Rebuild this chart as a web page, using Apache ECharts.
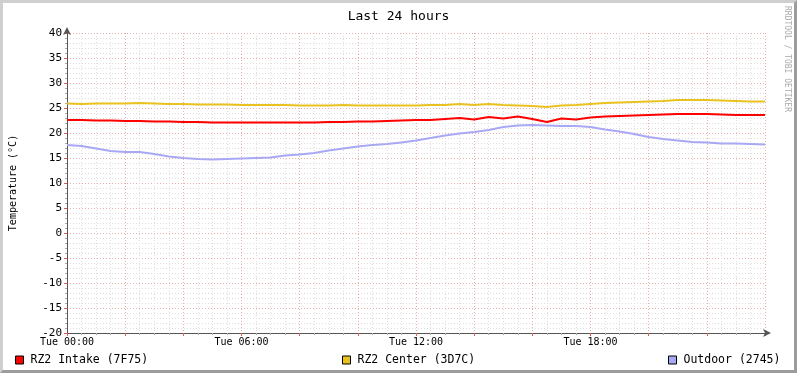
<!DOCTYPE html>
<html lang="en">
<head>
    <meta charset="UTF-8">
    <title>Last 24 hours</title>
    <script src="https://cdn.jsdelivr.net/npm/echarts@6/dist/echarts.min.js"></script>
    <style>
        html, body { margin: 0; padding: 0; background: #fff; }
        #wrap { position: relative; width: 797px; height: 373px; }
        #main { position: absolute; left: 0; top: 0; width: 797px; height: 373px; }
        #frame {
            position: absolute; left: 0; top: 0; width: 797px; height: 373px;
            box-sizing: border-box; pointer-events: none;
            border-top: 3px solid #cfcfcf; border-left: 3px solid #cfcfcf;
            border-right: 3px solid #9c9c9c; border-bottom: 3px solid #9c9c9c;
        }
    </style>
</head>
<body>
<div id="wrap">
    <div id="main"></div>
    <div id="frame"></div>
</div>
<script>
    // hours since Tue 00:00, one sample every 30 min
    var hours = [0, 0.5, 1, 1.5, 2, 2.5, 3, 3.5, 4, 4.5, 5, 5.5, 6, 6.5, 7, 7.5, 8, 8.5,
        9, 9.5, 10, 10.5, 11, 11.5, 12, 12.5, 13, 13.5, 14, 14.5, 15, 15.5, 16, 16.5,
        17, 17.5, 18, 18.5, 19, 19.5, 20, 20.5, 21, 21.5, 22, 22.5, 23, 23.5, 24];

    var intake = [22.6, 22.6, 22.5, 22.5, 22.4, 22.4, 22.3, 22.3, 22.2, 22.2, 22.1, 22.1,
        22.1, 22.1, 22.1, 22.1, 22.1, 22.1, 22.2, 22.2, 22.3, 22.3, 22.4, 22.5,
        22.6, 22.6, 22.8, 23.0, 22.7, 23.2, 22.9, 23.3, 22.8, 22.2, 22.9, 22.7,
        23.1, 23.3, 23.4, 23.5, 23.6, 23.7, 23.8, 23.8, 23.8, 23.7, 23.6, 23.6, 23.6];

    var center = [25.9, 25.8, 25.9, 25.9, 25.9, 26.0, 25.9, 25.8, 25.8, 25.7, 25.7, 25.7,
        25.6, 25.6, 25.6, 25.6, 25.5, 25.5, 25.5, 25.6, 25.5, 25.5, 25.5, 25.5,
        25.5, 25.6, 25.6, 25.8, 25.6, 25.8, 25.6, 25.5, 25.4, 25.2, 25.5, 25.6,
        25.8, 26.0, 26.1, 26.2, 26.3, 26.4, 26.6, 26.6, 26.6, 26.5, 26.4, 26.3, 26.3];

    var outdoor = [17.6, 17.4, 16.9, 16.4, 16.2, 16.2, 15.8, 15.3, 15.0, 14.8, 14.7, 14.8,
        14.9, 15.0, 15.1, 15.5, 15.7, 16.0, 16.5, 16.9, 17.3, 17.6, 17.8, 18.1,
        18.5, 19.0, 19.5, 19.9, 20.2, 20.6, 21.2, 21.5, 21.6, 21.5, 21.4, 21.4,
        21.2, 20.7, 20.3, 19.8, 19.2, 18.8, 18.5, 18.2, 18.1, 17.9, 17.9, 17.8, 17.7];

    var seriesNames = ['RZ2 Intake (7F75)', 'RZ2 Center (3D7C)', 'Outdoor (2745)'];
    var seriesColors = ['#ff0000', '#eac21f', '#a8a8f4'];
    var xLabels = {0: 'Tue 00:00', 6: 'Tue 06:00', 12: 'Tue 12:00', 18: 'Tue 18:00'};

    function pairs(values) {
        var out = [];
        for (var i in values) {
            out.push([hours[i], values[i]]);
        }
        return out;
    }

    var mono = 'DejaVu Sans Mono';
    var majorGrid = {show: true, lineStyle: {color: '#e8adad', type: [1, 2], width: 1}};
    var minorGrid = {show: true, lineStyle: {color: '#dedede', type: [1, 2], width: 1}};

    function legendFor(i, left) {
        return {
            data: [seriesNames[i]],
            left: left,
            top: 354,
            icon: 'rect',
            itemWidth: 8,
            itemHeight: 8,
            itemGap: 0,
            padding: 0,
            selectedMode: false,
            itemStyle: {borderColor: '#000', borderWidth: 1},
            textStyle: {fontFamily: mono, fontSize: 11.5, color: '#000', padding: [0, 0, 0, 2]}
        };
    }

    var option = {
        animation: false,
        backgroundColor: '#fff',
        title: {
            text: 'Last 24 hours',
            left: 'center',
            top: 5,
            textStyle: {fontFamily: mono, fontSize: 13, fontWeight: 'normal', color: '#000'}
        },
        legend: [legendFor(0, 15), legendFor(1, 342), legendFor(2, 668)],
        grid: {left: 67, right: 32, top: 33, bottom: 40, containLabel: false, outerBoundsMode: 'none'},
        xAxis: {
            type: 'value',
            min: 0,
            max: 24,
            interval: 2,
            axisLine: {
                onZero: false,
                lineStyle: {color: '#555', width: 1},
                symbol: ['none', 'arrow'],
                symbolSize: [6, 8],
                symbolOffset: [0, 6]
            },
            axisTick: {show: true, length: 3, lineStyle: {color: '#e05a5a'}},
            minorTick: {show: true, splitNumber: 4, length: 2, lineStyle: {color: '#aaa'}},
            axisLabel: {
                fontFamily: mono, fontSize: 10, color: '#000', margin: 4,
                formatter: function (v) { return xLabels[v] || ''; }
            },
            splitLine: majorGrid,
            minorSplitLine: minorGrid
        },
        yAxis: {
            type: 'value',
            min: -20,
            max: 40,
            interval: 5,
            name: 'Temperature (°C)',
            nameLocation: 'middle',
            nameGap: 49,
            nameTextStyle: {fontFamily: mono, fontSize: 10, color: '#000'},
            axisLine: {
                show: true,
                onZero: false,
                lineStyle: {color: '#555', width: 1},
                symbol: ['none', 'arrow'],
                symbolSize: [6, 8],
                symbolOffset: [0, 6]
            },
            axisTick: {show: true, length: 3, lineStyle: {color: '#e05a5a'}},
            minorTick: {show: true, splitNumber: 5, length: 2, lineStyle: {color: '#aaa'}},
            axisLabel: {fontFamily: mono, fontSize: 11, color: '#000', margin: 5},
            splitLine: majorGrid,
            minorSplitLine: minorGrid
        },
        graphic: [{
            type: 'text',
            left: 783,
            top: 6,
            rotation: -Math.PI / 2,
            style: {text: 'RRDTOOL / TOBI OETIKER', fill: '#aaa', font: '8px "DejaVu Sans Mono"'}
        }],
        series: [0, 1, 2].map(function (i) {
            return {
                name: seriesNames[i],
                type: 'line',
                data: pairs([intake, center, outdoor][i]),
                showSymbol: false,
                color: seriesColors[i],
                lineStyle: {width: 2, color: seriesColors[i]}
            };
        })
    };

    echarts.init(document.getElementById('main')).setOption(option);
</script>
</body>
</html>
